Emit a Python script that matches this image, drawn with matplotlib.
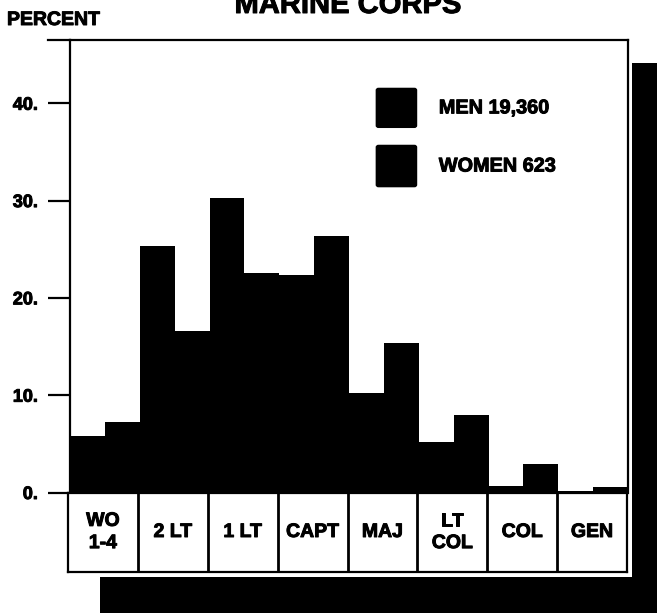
import matplotlib
matplotlib.use('Agg')
import matplotlib.pyplot as plt
import matplotlib.patheffects as pe
from matplotlib.patches import Rectangle, FancyBboxPatch
from matplotlib.lines import Line2D
import numpy as np

plt.rcParams['font.family'] = ['Liberation Sans', 'DejaVu Sans']
plt.rcParams['font.weight'] = 'bold'

ranks = ['WO\n1-4', '2 LT', '1 LT', 'CAPT', 'MAJ', 'LT\nCOL', 'COL', 'GEN']
men = [5.8, 25.3, 30.3, 22.4, 10.2, 5.2, 0.7, 0.15]
women = [7.2, 16.6, 22.6, 26.4, 15.4, 8.0, 2.9, 0.6]
yticks = [0, 10, 20, 30, 40]
ytick_labels = ['0.', '10.', '20.', '30.', '40.']
legend_labels = ['MEN 19,360', 'WOMEN 623']

W, H = 657, 613
heavy = [pe.withStroke(linewidth=0.7, foreground='black')]
fig = plt.figure(figsize=(W / 100, H / 100), dpi=100)

##
# main plot area
ax = fig.add_axes([70 / W, (H - 492.5) / H, 558 / W, 452.5 / H])
x = np.arange(len(ranks))
ax.bar(x - 0.25, men, width=0.5, color='black', edgecolor='black', linewidth=0)
ax.bar(x + 0.25, women, width=0.5, color='black', edgecolor='black', linewidth=0)
ax.set_xlim(-0.5, len(ranks) - 0.5)
ax.set_ylim(0, 46.5)
ax.set_xticks([])
ax.set_yticks(yticks)
ax.set_yticklabels(ytick_labels, fontsize=13, fontweight='bold')
for t in ax.get_yticklabels():
    t.set_path_effects(heavy)
ax.tick_params(axis='y', direction='out', length=16, width=1.6, pad=7)
for s in ax.spines.values():
    s.set_linewidth(1.6)
ax.spines['bottom'].set_visible(False)

# legend squares
for i, lab in enumerate(legend_labels):
    top = [0.894, 0.768][i]
    bot = [0.806, 0.675][i]
    sq = FancyBboxPatch((0.553, bot + 0.005), 0.064, top - bot - 0.01,
                        boxstyle='round,pad=0.004', transform=ax.transAxes,
                        facecolor='black', edgecolor='black')
    ax.add_patch(sq)
    ax.text(0.661, (top + bot) / 2, lab, transform=ax.transAxes,
            fontsize=14.3, fontweight='bold', va='center', ha='left',
            path_effects=heavy)

##
# rank boxes under the bars
bx = fig.add_axes([68 / W, (H - 572) / H, 559 / W, 79 / H])
bx.set_xlim(-0.5, len(ranks) - 0.5)
bx.set_ylim(0, 1)
bx.set_xticks([])
bx.set_yticks([])
for s in bx.spines.values():
    s.set_linewidth(1.6)
for i in range(1, len(ranks)):
    bx.axvline(i - 0.5, color='black', linewidth=2)
for i, r in enumerate(ranks):
    bx.text(i, 0.5, r, ha='center', va='center', fontsize=14,
            fontweight='bold', linespacing=1.4, path_effects=heavy)

##
# shadows and frame extras
fig.patches.append(Rectangle((632 / W, 0), 1 - 632 / W, (H - 63) / H,
                             transform=fig.transFigure, facecolor='black',
                             edgecolor='none'))
fig.patches.append(Rectangle((100 / W, 0), 1 - 100 / W, (H - 577) / H,
                             transform=fig.transFigure, facecolor='black',
                             edgecolor='none'))
fig.lines.append(Line2D([48 / W, 70 / W], [(H - 40) / H, (H - 40) / H],
                        transform=fig.transFigure, color='black', linewidth=1.6))

fig.text(7 / W, 1 - 25 / H, 'PERCENT', fontsize=14, fontweight='bold',
         va='baseline', ha='left', path_effects=heavy)
fig.text(348 / W, 1 - 13 / H, 'MARINE CORPS', fontsize=21, fontweight='bold',
         va='baseline', ha='center', path_effects=heavy)

fig.savefig('out.png', dpi=100)
